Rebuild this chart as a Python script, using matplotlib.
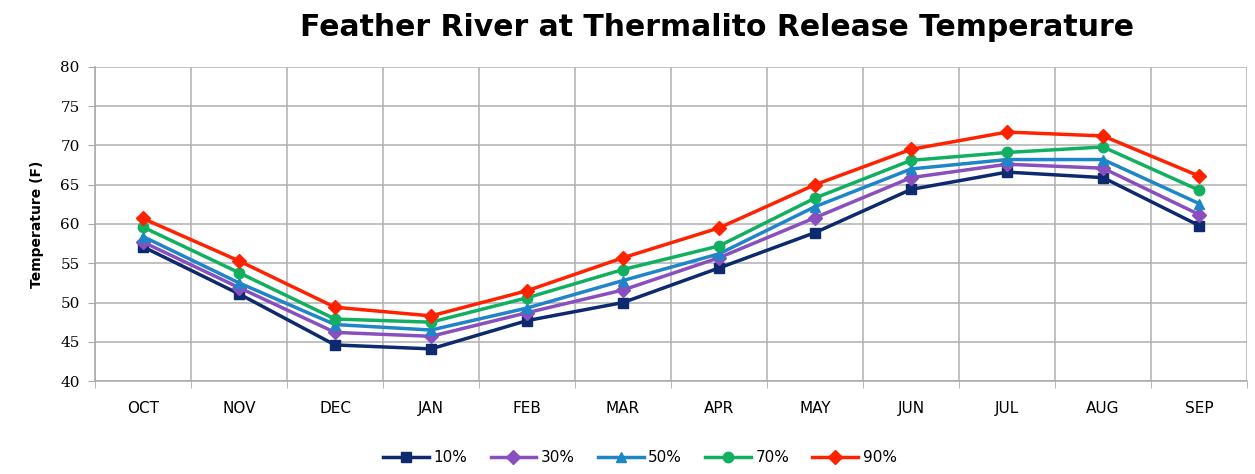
import numpy as np
import matplotlib
matplotlib.use('Agg')
import matplotlib.pyplot as plt

months = ['OCT', 'NOV', 'DEC', 'JAN', 'FEB', 'MAR', 'APR', 'MAY', 'JUN', 'JUL', 'AUG', 'SEP']

p10 = [57.1, 51.1, 44.6, 44.1, 47.7, 50.0, 54.4, 58.9, 64.4, 66.6, 65.9, 59.8]
p30 = [57.7, 51.9, 46.2, 45.7, 48.7, 51.6, 55.7, 60.8, 65.9, 67.6, 67.1, 61.2]
p50 = [58.4, 52.5, 47.2, 46.5, 49.3, 52.8, 56.2, 62.2, 67.0, 68.2, 68.2, 62.6]
p70 = [59.6, 53.8, 47.9, 47.5, 50.6, 54.2, 57.2, 63.3, 68.1, 69.1, 69.8, 64.3]
p90 = [60.7, 55.3, 49.4, 48.3, 51.5, 55.7, 59.5, 65.0, 69.5, 71.7, 71.2, 66.1]

series = [('10%', p10, '#0D2A6E', 's'),
          ('30%', p30, '#8A4FBF', 'D'),
          ('50%', p50, '#1E86C8', '^'),
          ('70%', p70, '#10B060', 'o'),
          ('90%', p90, '#FF2200', 'D')]

fig = plt.figure(figsize=(12.55, 4.74), dpi=100)
ax = fig.add_axes([0.0757, 0.196, 0.918, 0.663])

x = np.arange(len(months))
for name, vals, col, mk in series:
    ax.plot(x, vals, color=col, marker=mk, markersize=7.5, linewidth=2.5, label=name)

ax.set_xlim(-0.5, len(months) - 0.5)
ax.set_ylim(40, 80)
ax.set_yticks(np.arange(40, 81, 5))
ax.set_yticklabels([str(v) for v in range(40, 81, 5)], family='DejaVu Serif', fontsize=11)
ax.set_xticks(x)
ax.set_xticklabels(months, fontsize=11)
ax.set_xticks(np.arange(-0.5, len(months), 1), minor=True)
ax.tick_params(axis='x', which='major', length=0, pad=14)
ax.tick_params(axis='x', which='minor', length=5, color='#A8A8A8')
ax.tick_params(axis='y', length=5, color='#A8A8A8', pad=6)
ax.grid(True, axis='y', color='#B0B0B0', linewidth=1.1)
ax.grid(True, axis='x', which='minor', color='#B0B0B0', linewidth=1.1)
for s in ['top', 'right']:
    ax.spines[s].set_visible(False)
for s in ['left', 'bottom']:
    ax.spines[s].set_color('#A8A8A8')
    ax.spines[s].set_linewidth(1.1)
ax.set_axisbelow(True)

ax.set_ylabel('Temperature (F)', fontsize=10, fontweight='bold', labelpad=12)
fig.suptitle('Feather River at Thermalito Release Temperature', fontsize=21.5,
             fontweight='bold', x=0.571, y=0.972)
fig.legend(loc='lower center', ncol=5, frameon=False, fontsize=11,
           bbox_to_anchor=(0.51, -0.01), handlelength=3, columnspacing=1.5,
           handletextpad=0.3)

fig.savefig('out.png', dpi=100)
